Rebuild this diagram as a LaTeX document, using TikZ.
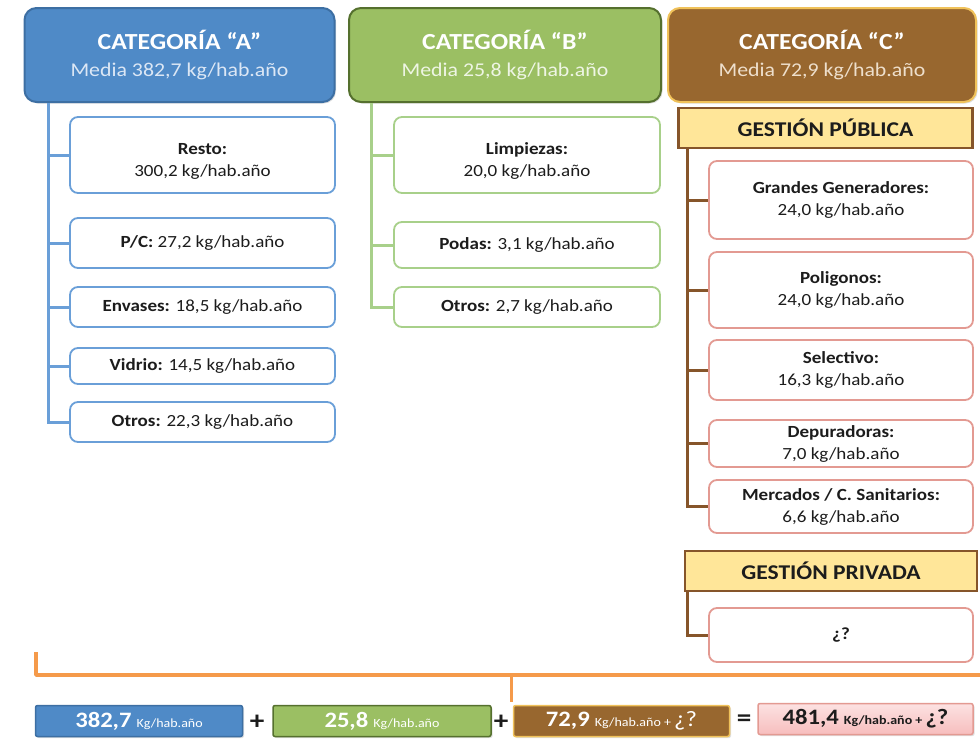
\documentclass[tikz,border=0pt]{standalone}
\usepackage{fontspec}
\setmainfont{Carlito}[FakeStretch=1.12]
\usetikzlibrary{shadows}

% palette
\definecolor{aFill}{HTML}{4F8AC7}
\definecolor{aDraw}{HTML}{3D6FA3}
\definecolor{aLine}{HTML}{6A9FD8}
\definecolor{aSub}{HTML}{DCE7F5}
\definecolor{bFill}{HTML}{9BBF63}
\definecolor{bDraw}{HTML}{55702E}
\definecolor{bLine}{HTML}{A8D08A}
\definecolor{bSub}{HTML}{EEF5E4}
\definecolor{cFill}{HTML}{98672F}
\definecolor{cDraw}{HTML}{F0C25A}
\definecolor{cLine}{HTML}{86552A}
\definecolor{cSub}{HTML}{EEDFCC}
\definecolor{cBox}{HTML}{E39A92}
\definecolor{gestFill}{HTML}{FFE699}
\definecolor{bracket}{HTML}{F59A4A}
\definecolor{pinkTop}{HTML}{FCE2E2}
\definecolor{pinkBot}{HTML}{F7BDBD}
\definecolor{ink}{HTML}{1C1C1C}

\newcommand\fsz[2]{\fontsize{#1}{#2}\selectfont}

\tikzset{
  header/.style={rounded corners=12pt, line width=2pt, align=center,
    inner sep=0pt, text=white, font=\fsz{19.5}{27},
    drop shadow={opacity=0.25, shadow xshift=1.5pt, shadow yshift=-1.5pt}},
  leaf/.style={rounded corners=8pt, line width=1.8pt, fill=white,
    align=center, inner sep=0pt, text=ink, font=\fsz{17}{22}},
  leafA/.style={leaf, draw=aLine, minimum width=265pt},
  leafB/.style={leaf, draw=bLine, minimum width=266pt},
  leafC/.style={leaf, draw=cBox, minimum width=264pt},
  gest/.style={draw=cLine, line width=2.5pt, fill=gestFill, inner sep=0pt,
    text=ink, font=\bfseries\fsz{21}{24}, minimum height=40pt},
  trunkA/.style={draw=aLine, line width=3pt},
  trunkB/.style={draw=bLine, line width=3pt},
  trunkC/.style={draw=cLine, line width=3pt},
  bracketline/.style={draw=bracket, line width=3.5pt, line join=round},
  total/.style={minimum height=31pt, inner sep=0pt, line width=1.5pt,
    rounded corners=2pt,
    drop shadow={opacity=0.25, shadow xshift=1.5pt, shadow yshift=-1.5pt}},
  op/.style={font=\bfseries\fsz{26}{28}, text=ink, inner sep=0pt},
}

\newcommand\titletext[1]{{\bfseries\fsz{23}{27}#1}}
\newcommand\bignum[1]{{\bfseries\fsz{22}{24}#1}}
\newcommand\unit[1]{{\fsz{12.5}{14}#1}}
% extra head room that lowers a two-line text inside a tall box
\newcommand\headroom{\rule{0pt}{23pt}}

\begin{document}
\begin{tikzpicture}[x=1pt, y=-1pt]
\useasboundingbox (0,0) rectangle (980,739);

% ---------- category headers ----------
\node[header, fill=aFill, draw=aDraw, minimum width=310pt, minimum height=94pt]
  (catA) at (179.5,55)
  {\titletext{CATEGORÍA “A”}\\{\color{aSub}Media 382,7 kg/hab.año}};
\node[header, fill=bFill, draw=bDraw, minimum width=312pt, minimum height=94pt]
  (catB) at (505,55)
  {\titletext{CATEGORÍA “B”}\\{\color{bSub}Media 25,8 kg/hab.año}};
\node[header, fill=cFill, draw=cDraw, minimum width=308pt, minimum height=94pt]
  (catC) at (822,55)
  {\titletext{CATEGORÍA “C”}\\{\color{cSub}Media 72,9 kg/hab.año}};

% ---------- category A ----------
\node[leafA, minimum height=76pt] (aResto) at (202.5,155) {\headroom\textbf{Resto:}\\300,2 kg/hab.año};
\node[leafA, minimum height=50pt] (aPC)    at (202.5,243) {\textbf{P/C:} 27,2 kg/hab.año};
\node[leafA, minimum height=40pt] (aEnv)   at (202.5,307) {\textbf{Envases:} 18,5 kg/hab.año};
\node[leafA, minimum height=36pt] (aVid)   at (202.5,366) {\textbf{Vidrio:} 14,5 kg/hab.año};
\node[leafA, minimum height=40pt] (aOtr)   at (202.5,422) {\textbf{Otros:} 22,3 kg/hab.año};

\coordinate (tA) at (48,0);
\foreach \n in {aResto,aPC,aEnv,aVid,aOtr}
  \draw[trunkA] (tA |- catA.south) |- (\n.west);

% ---------- category B ----------
\node[leafB, minimum height=76pt] (bLim) at (527,155) {\headroom\textbf{Limpiezas:}\\20,0 kg/hab.año};
\node[leafB, minimum height=46pt] (bPod) at (527,245) {\textbf{Podas:} 3,1 kg/hab.año};
\node[leafB, minimum height=40pt] (bOtr) at (527,307) {\textbf{Otros:} 2,7 kg/hab.año};

\coordinate (tB) at (371,0);
\foreach \n in {bLim,bPod,bOtr}
  \draw[trunkB] (tB |- catB.south) |- (\n.west);

% ---------- category C ----------
\node[gest, minimum width=294pt] (pub) at (825.5,128) {GESTIÓN PÚBLICA};

\node[leafC, minimum height=78pt] (cGG)  at (841,200) {\textbf{Grandes Generadores:}\\24,0 kg/hab.año};
\node[leafC, minimum height=76pt] (cPol) at (841,290) {\textbf{Poligonos:}\\24,0 kg/hab.año};
\node[leafC, minimum height=60pt] (cSel) at (841,370) {\textbf{Selectivo:}\\16,3 kg/hab.año};
\node[leafC, minimum height=47pt] (cDep) at (841,443.5) {\textbf{Depuradoras:}\\7,0 kg/hab.año};
\node[leafC, minimum height=53pt] (cMer) at (841,506.5) {\textbf{Mercados / C. Sanitarios:}\\6,6 kg/hab.año};

\coordinate (tC) at (687,0);
\foreach \n in {cGG,cPol,cSel,cDep,cMer}
  \draw[trunkC] (tC |- pub.south) |- (\n.west);

\node[gest, minimum width=292pt] (priv) at (831,571) {GESTIÓN PRIVADA};
\node[leafC, minimum height=54pt] (cPriv) at (841,635) {\textbf{¿?}};
\draw[trunkC] (tC |- priv.south) |- (cPriv.west);

% ---------- bracket over the totals ----------
\coordinate (brL) at (36,652);
\coordinate (brR) at (982,675);
\coordinate (brM) at (511,675);
\coordinate (brT) at (511,702);
\begin{scope}[shift={(1.5,2.5)}]
  \draw[black, opacity=0.16, line width=3.5pt, line join=round]
    (brL) -- (brL |- brM) -- (brR);
  \draw[black, opacity=0.16, line width=3pt] (brM) -- (brT);
\end{scope}
\draw[bracketline] (brL) -- (brL |- brM) -- (brR);
\draw[bracketline, line width=3pt] (brM) -- (brT);

% ---------- totals ----------
\node[total, fill=aFill, draw=aDraw, minimum width=207pt, text=white] (sA) at (139,721)
  {\bignum{382,7}\enspace\unit{Kg/hab.año}};
\node[op] (p1) at (257,722) {+};
\node[total, fill=bFill, draw=bDraw, minimum width=218pt, text=white] (sB) at (382,721)
  {\bignum{25,8}\enspace\unit{Kg/hab.año}};
\node[op] (p2) at (501,722) {+};
\node[total, fill=cFill, draw=cDraw, minimum width=216pt, text=white] (sC) at (621.5,721)
  {\bignum{72,9}\enspace\unit{Kg/hab.año + }{\fsz{22}{24}¿?}};
\node[op] (eq) at (744,721) {=};
\node[total, top color=pinkTop, bottom color=pinkBot, draw=cBox, minimum width=215pt, text=ink]
  (sT) at (865.5,719)
  {\bignum{481,4}\enspace{\bfseries\unit{Kg/hab.año + }}{\bfseries\fsz{22}{24}¿?}};
\end{tikzpicture}
\end{document}
